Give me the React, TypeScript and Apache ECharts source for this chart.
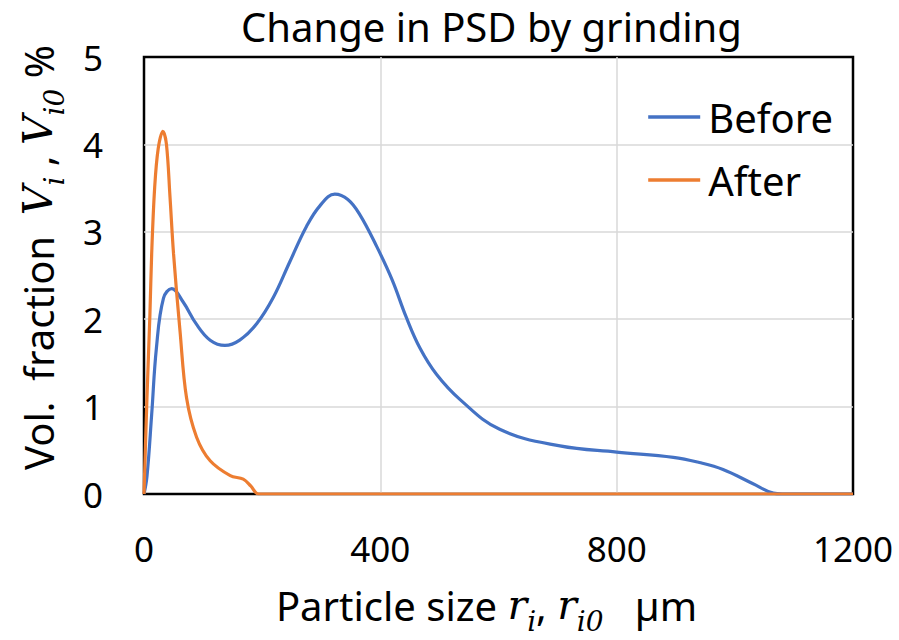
import React, { useEffect, useRef } from "react";
import * as echarts from "echarts";

const xTicks = [0, 400, 800, 1200];
const yTicks = [0, 1, 2, 3, 4, 5];

const beforeX = [0, 5, 13, 21, 33, 47, 66, 89, 112, 137, 162, 191, 219, 247, 275, 298, 323, 345, 365, 394, 420, 444, 467, 495, 535, 602, 704, 800, 896, 940, 980, 1030, 1065, 1080, 1200];
const beforeY = [0, 0.2, 0.91, 1.67, 2.24, 2.35, 2.2, 1.94, 1.76, 1.7, 1.76, 1.95, 2.25, 2.66, 3.06, 3.3, 3.43, 3.37, 3.2, 2.83, 2.45, 2.02, 1.67, 1.37, 1.08, 0.74, 0.55, 0.48, 0.42, 0.36, 0.28, 0.12, 0.01, 0, 0];

const afterX = [0, 5, 10, 13, 18, 24, 32, 38, 44, 50, 61, 72, 89, 112, 146, 168, 181, 194, 1200];
const afterY = [0, 1.1, 2.05, 2.75, 3.5, 3.95, 4.15, 4.0, 3.4, 2.75, 1.86, 1.1, 0.65, 0.38, 0.21, 0.17, 0.09, 0, 0];

const seriesNames = ["Before", "After"];
const colors = ["#4472C4", "#ED7D31"];

const SANS = "Noto Sans";
const MATH = "DejaVu Serif";

export default function App() {
  const ref = useRef<HTMLDivElement>(null);
  useEffect(() => {
    if (!ref.current) return;
    const chart = echarts.init(ref.current, null, { renderer: "svg" });
    const nameRich = {
      t: { fontFamily: SANS, fontSize: 40, color: "#000", verticalAlign: "bottom", padding: [0, 0, 10, 0] },
      m: { fontFamily: MATH, fontStyle: "italic", fontSize: 41, color: "#000", verticalAlign: "bottom", padding: [0, 0, 10, 0] },
      s: { fontFamily: MATH, fontStyle: "italic", fontSize: 28, color: "#000", verticalAlign: "bottom", padding: [0, 0, 0, 0] },
    };
    const mk = (x: number[], y: number[]) => x.map((v, i) => [v, y[i]]);
    chart.setOption({
      animation: false,
      backgroundColor: "#fff",
      title: {
        text: "Change in PSD by grinding",
        left: 241,
        top: 2,
        padding: 0,
        textStyle: { fontFamily: SANS, fontSize: 40, fontWeight: "normal", color: "#000", lineHeight: 48 },
      },
      legend: {
        orient: "vertical",
        right: 66,
        top: 97,
        padding: 0,
        icon: "rect",
        itemWidth: 52,
        itemHeight: 3.5,
        itemGap: 23,
        textStyle: { fontFamily: SANS, fontSize: 40, color: "#000", lineHeight: 40, padding: [0, 0, 0, 3] },
        data: seriesNames,
      },
      grid: {
        left: 144,
        top: 57,
        right: 46,
        bottom: 143,
        show: true,
        borderColor: "#000",
        borderWidth: 2.5,
      },
      xAxis: {
        type: "value",
        min: xTicks[0],
        max: xTicks[xTicks.length - 1],
        interval: 400,
        axisLine: { show: false },
        axisTick: { show: false },
        axisLabel: { fontFamily: SANS, fontSize: 35, color: "#000", margin: 37, formatter: (v: number) => String(v) },
        splitLine: { show: true, showMinLine: false, showMaxLine: false, lineStyle: { color: "#d9d9d9", width: 1.5 } },
        name: "{t|Particle size }{m|r}{s|i}{t|, }{m|r}{s|i0}{t|   µm}",
        nameLocation: "middle",
        nameGap: 90,
        nameTextStyle: { rich: nameRich, padding: [0, 24, 0, 0] },
      },
      yAxis: {
        type: "value",
        min: yTicks[0],
        max: yTicks[yTicks.length - 1],
        interval: 1,
        axisLine: { show: false },
        axisTick: { show: false },
        axisLabel: { fontFamily: SANS, fontSize: 35, color: "#000", margin: 41 },
        splitLine: { show: true, showMinLine: false, showMaxLine: false, lineStyle: { color: "#d9d9d9", width: 1.5 } },
        name: "{t|Vol.  fraction  }{m|V}{s|i}{t| , }{m|V}{s|i0}{t| %}",
        nameLocation: "middle",
        nameRotate: 90,
        nameGap: 76,
        nameTextStyle: { rich: nameRich, padding: [0, 0, 0, 36] },
      },
      series: [
        {
          name: seriesNames[0],
          type: "line",
          data: mk(beforeX, beforeY),
          smooth: 0.4,
          showSymbol: false,
          symbol: "none",
          lineStyle: { color: colors[0], width: 3.2 },
          itemStyle: { color: colors[0] },
        },
        {
          name: seriesNames[1],
          type: "line",
          data: mk(afterX, afterY),
          smooth: 0.35,
          showSymbol: false,
          symbol: "none",
          lineStyle: { color: colors[1], width: 3.2 },
          itemStyle: { color: colors[1] },
        },
      ],
    });
    return () => chart.dispose();
  }, []);
  return <div ref={ref} style={{ width: 899, height: 640, position: "absolute", left: 0, top: 0 }} />;
}
